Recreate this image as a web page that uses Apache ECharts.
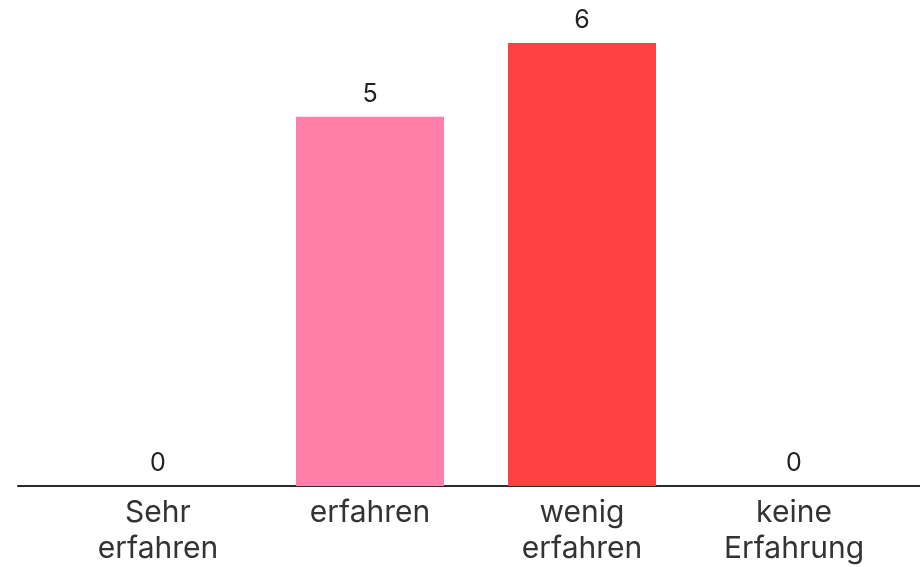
<!DOCTYPE html>
<html>
<head>
<meta charset="utf-8">
<script src="https://cdn.jsdelivr.net/npm/echarts@6/dist/echarts.min.js"></script>
<style>
  html, body { margin: 0; padding: 0; background: #fff; }
  #chart { width: 920px; height: 567px; }
</style>
</head>
<body>
<div id="chart"></div>
<script>
let categories = ['Sehr\nerfahren', 'erfahren', 'wenig\nerfahren', 'keine\nErfahrung'];
let values = [0, 5, 6, 0];
let barColors = ['#ff7fa8', '#ff7fa8', '#ff4040', '#ff4040'];

let chart = echarts.init(document.getElementById('chart'));
let font = 'Inter, "Noto Sans", sans-serif';
let option = {
  animation: false,
  grid: [
    { left: 52, right: 20, top: 43, bottom: 81 },
    { left: 18, right: 0, top: 43, bottom: 81 }
  ],
  xAxis: [
    {
      type: 'category',
      data: categories,
      gridIndex: 0,
      axisLine: { show: false },
      axisTick: { show: false },
      axisLabel: {
        color: '#333',
        fontFamily: font,
        fontSize: 30,
        lineHeight: 36,
        margin: 9,
        interval: 0
      }
    },
    {
      type: 'value',
      gridIndex: 1,
      min: 0,
      max: 1,
      axisLine: { show: true, lineStyle: { color: '#2a2a2a', width: 2 } },
      axisTick: { show: false },
      axisLabel: { show: false },
      splitLine: { show: false }
    }
  ],
  yAxis: [
    { type: 'value', gridIndex: 0, min: 0, max: 6, show: false },
    { type: 'value', gridIndex: 1, min: 0, max: 1, show: false }
  ],
  series: [
    {
      type: 'bar',
      data: values.map((v, i) => ({ value: v, itemStyle: { color: barColors[i] } })),
      barWidth: 148,
      label: {
        show: true,
        position: 'top',
        distance: 10,
        color: '#222',
        fontFamily: font,
        fontSize: 25
      }
    }
  ]
};
chart.setOption(option);
</script>
</body>
</html>
